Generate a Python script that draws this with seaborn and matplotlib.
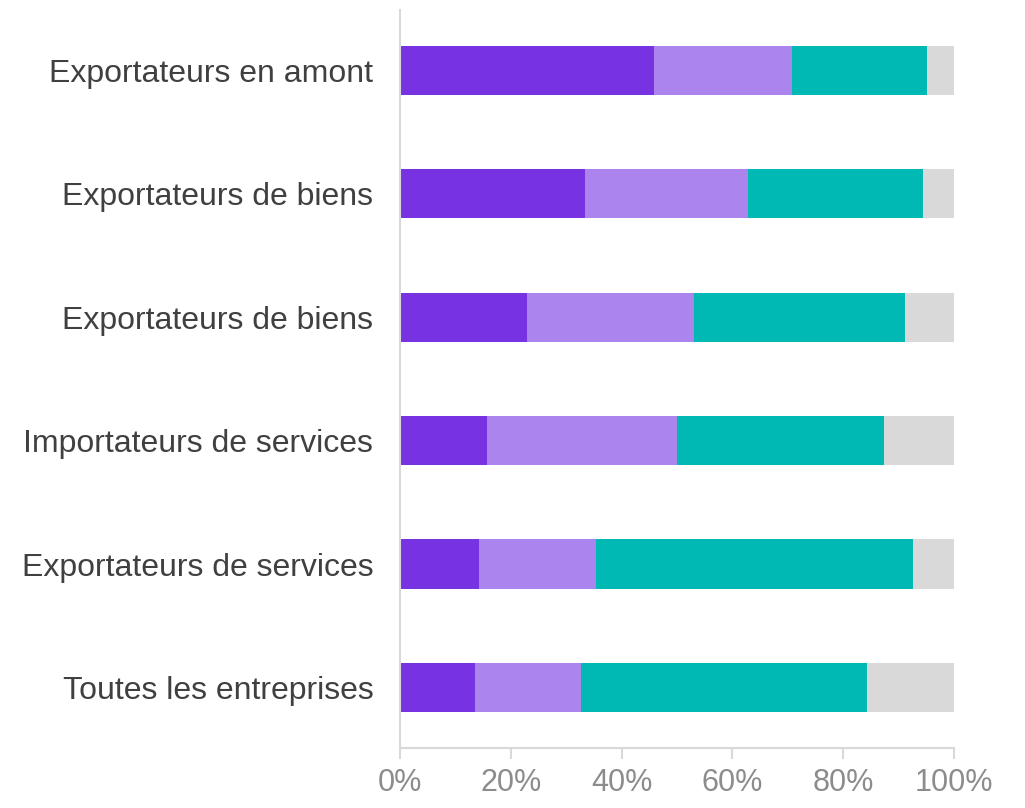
import matplotlib
matplotlib.use("Agg")
import matplotlib.pyplot as plt
import seaborn as sns
import pandas as pd
import numpy as np

categories = ['Exportateurs en amont', 'Exportateurs de biens', 'Exportateurs de biens',
              'Importateurs de services', 'Exportateurs de services', 'Toutes les entreprises']
seg1 = [45.8, 33.4, 22.9, 15.7, 14.3, 13.6]
seg2 = [25.0, 29.4, 30.2, 34.3, 21.1, 19.1]
seg3 = [24.3, 31.6, 38.1, 37.4, 57.2, 51.6]
seg4 = [4.9, 5.6, 8.8, 12.6, 7.4, 15.7]
colors = ['#7733E2', '#AC84EE', '#00B8B4', '#D9D9D9']

sns.set_theme(style='white')
plt.rcParams['font.family'] = ['Liberation Sans', 'DejaVu Sans']

df = pd.DataFrame({'row': list(range(len(categories))),
                   's1': seg1, 's2': seg2, 's3': seg3, 's4': seg4})
cum = df[['s1', 's2', 's3', 's4']].cumsum(axis=1)

fig = plt.figure(figsize=(10.25, 8.08), dpi=100)
ax = fig.add_axes([0.39, 0.074, 0.541, 0.914])

# stacked bars: draw the longest cumulative first
for col, c in zip(['s4', 's3', 's2', 's1'], colors[::-1]):
    sns.barplot(x=cum[col], y=df['row'], orient='h', color=c, width=0.4,
                saturation=1, linewidth=0, ax=ax, order=list(range(len(categories))))

ax.set_xlim(0, 100)
ax.set_ylim(5.49, -0.49)
ax.set_xticks(np.arange(0, 101, 20))
ax.set_xticklabels([f'{v}%' for v in range(0, 101, 20)], fontsize=22, color='#8C8C8C')
ax.set_yticks(range(len(categories)))
ax.set_yticklabels(categories, fontsize=23, color='#404040')
ax.set_xlabel('')
ax.set_ylabel('')
ax.tick_params(axis='x', length=8, width=1.5, color='#D9D9D9', pad=6, direction='out', bottom=True)
ax.tick_params(axis='y', length=0, pad=19)
for s in ['top', 'right']:
    ax.spines[s].set_visible(False)
for s in ['left', 'bottom']:
    ax.spines[s].set_color('#D9D9D9')
    ax.spines[s].set_linewidth(1.5)

fig.savefig('out.png', dpi=100)
